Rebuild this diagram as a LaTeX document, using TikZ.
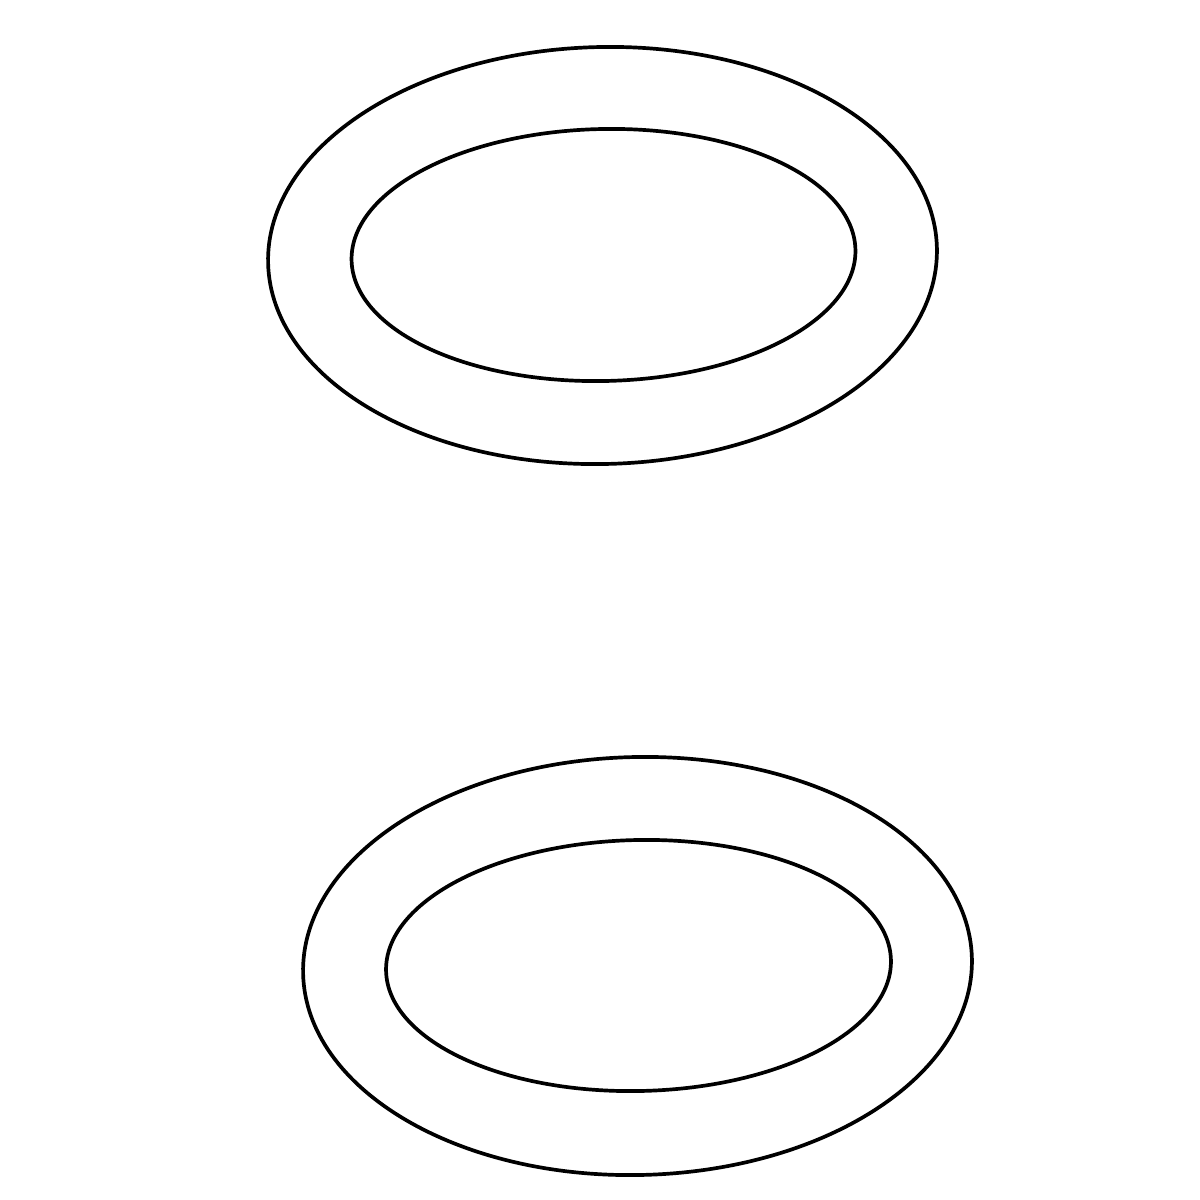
\documentclass[tikz,border=0pt]{standalone}
\begin{document}
\begin{tikzpicture}[x=0.01cm,y=-0.01cm,ring/.style={draw=black,line width=1.05pt}]
\useasboundingbox (0,0) rectangle (1200,1200);
\draw[ring,rotate around={1.3:(602.5,255.5)}] (602.5,255.5) ellipse [x radius=334.5, y radius=208.5];
\draw[ring,rotate around={1.2:(603.5,255)}] (603.5,255) ellipse [x radius=252, y radius=126];
\draw[ring,rotate around={1.3:(637.5,966)}] (637.5,966) ellipse [x radius=334.5, y radius=209];
\draw[ring,rotate around={1.2:(638.5,965.5)}] (638.5,965.5) ellipse [x radius=252.5, y radius=125.5];
\end{tikzpicture}
\end{document}
